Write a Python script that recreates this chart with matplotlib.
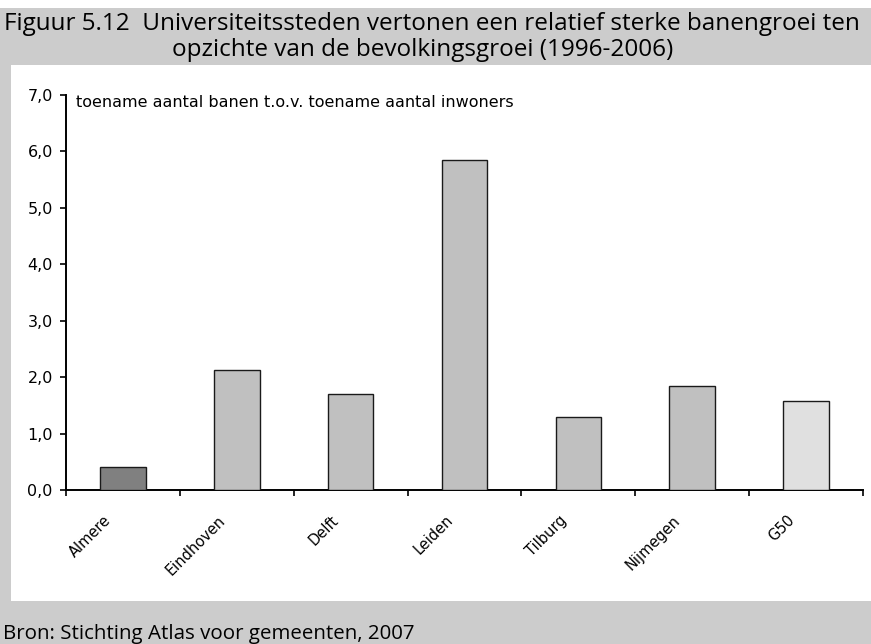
import matplotlib
matplotlib.use("Agg")
import matplotlib.pyplot as plt
from matplotlib.patches import Rectangle
from matplotlib.transforms import ScaledTranslation

plt.rcParams['font.family'] = ['DejaVu Sans']

# Data
categories = ["Almere", "Eindhoven", "Delft", "Leiden", "Tilburg", "Nijmegen", "G50"]
values = [0.41, 2.13, 1.70, 5.84, 1.29, 1.84, 1.58]
bar_colors = ["#808080", "#c0c0c0", "#c0c0c0", "#c0c0c0", "#c0c0c0", "#c0c0c0", "#e0e0e0"]
y_ticks = [0, 1, 2, 3, 4, 5, 6, 7]
y_tick_labels = ["0,0", "1,0", "2,0", "3,0", "4,0", "5,0", "6,0", "7,0"]

title_line1 = "Figuur 5.12  Universiteitssteden vertonen een relatief sterke banengroei ten"
title_line2 = "opzichte van de bevolkingsgroei (1996-2006)"
axis_note = "toename aantal banen t.o.v. toename aantal inwoners"
source = "Bron: Stichting Atlas voor gemeenten, 2007"

W, H = 871, 644
fig = plt.figure(figsize=(W / 100, H / 100), dpi=100)
fig.patch.set_facecolor("white")

band = "#cccccc"
def px_rect(x0, y0, x1, y1):
    # rectangle in pixel coordinates measured from the top-left corner
    fig.patches.append(Rectangle((x0 / W, 1 - y1 / H), (x1 - x0) / W, (y1 - y0) / H,
                                 transform=fig.transFigure, facecolor=band,
                                 edgecolor="none", zorder=0))

px_rect(0, 8, W, 65)      # title band
px_rect(0, 65, 11, 601)   # left strip
px_rect(0, 601, W, H)     # footer band

renderer = fig.canvas.get_renderer()
def fitted_text(xpx, ypx, s, width_px, size, **kw):
    # place text and scale its size so it spans the given pixel width
    t = fig.text(xpx / W, 1 - ypx / H, s, fontsize=size, va="baseline", ha="left",
                 family=["Open Sans", "DejaVu Sans"], **kw)
    w = t.get_window_extent(renderer).width
    t.set_fontsize(size * width_px / w)
    return t

t1 = fitted_text(4, 30, title_line1, 856, 14)
t2 = fig.text(172 / W, 1 - 56 / H, title_line2, fontsize=t1.get_fontsize(),
              va="baseline", ha="left", family=["Open Sans", "DejaVu Sans"])
fitted_text(3, 639, source, 409, 12)

ax = fig.add_axes([66 / W, 154 / H, (863 - 66) / W, (490 - 95) / H])
ax.set_facecolor("white")
x = list(range(len(categories)))
ax.bar(x, values, width=0.40, color=bar_colors, edgecolor="#1a1a1a", linewidth=1.0, zorder=3)

ax.set_xlim(-0.5, len(categories) - 0.5)
ax.set_ylim(0, 7)
ax.set_yticks(y_ticks)
ax.set_yticklabels(y_tick_labels, fontsize=11.5)
ax.set_xticks([i + 0.5 for i in range(-1, len(categories))])
ax.set_xticklabels([])

# category names, slanted and set a little left of each bar centre
label_tf = ax.get_xaxis_transform() + ScaledTranslation(-0.14, -0.28, fig.dpi_scale_trans)
for xi, name in zip(x, categories):
    ax.text(xi, 0, name, transform=label_tf, rotation=45, ha="right", va="center",
            rotation_mode="anchor", fontsize=10.5, clip_on=False)

ax.tick_params(axis="x", which="major", direction="out", length=4.5, width=1.2, color="black")
ax.tick_params(axis="y", direction="out", length=4.5, width=1.2, pad=5)

for side in ("top", "right"):
    ax.spines[side].set_visible(False)
for side in ("left", "bottom"):
    ax.spines[side].set_linewidth(1.4)
    ax.spines[side].set_color("black")

ax.text(10 / (863 - 66), 6.86, axis_note, fontsize=11.5, va="center", ha="left",
        transform=ax.get_yaxis_transform())

fig.savefig("out.png", dpi=100, facecolor=fig.get_facecolor())
